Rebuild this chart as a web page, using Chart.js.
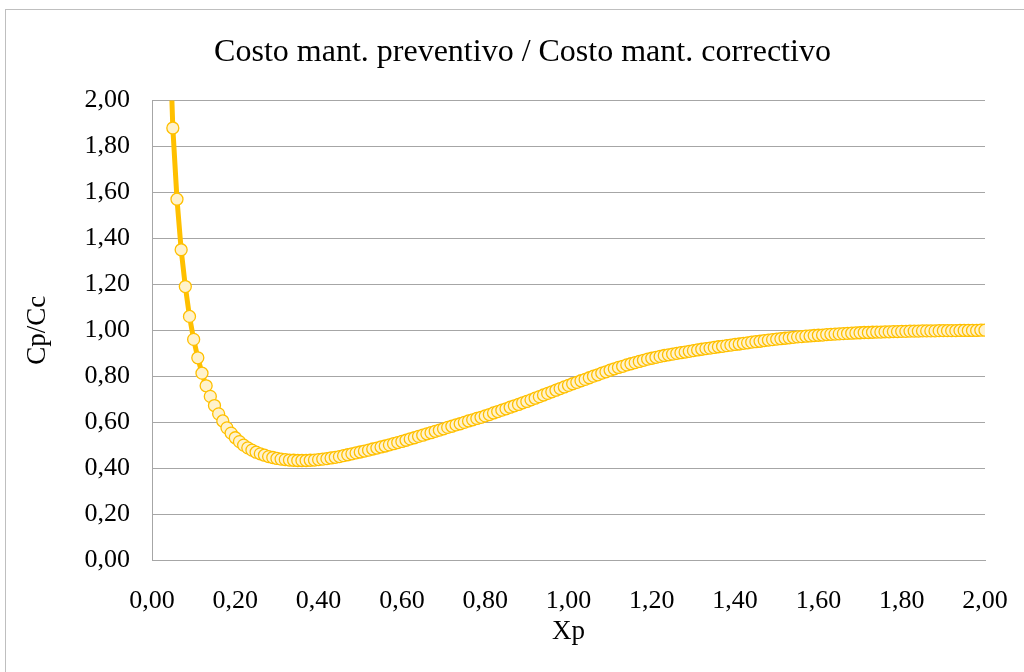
<!DOCTYPE html>
<html>
<head>
<meta charset="utf-8">
<script src="https://cdn.jsdelivr.net/npm/chart.js@4.4.0/dist/chart.umd.min.js"></script>
<style>
  html, body { margin: 0; padding: 0; background: #fff; overflow: hidden; }
  #wrap { position: relative; width: 1024px; height: 672px; }
  #frame { position: absolute; left: 5px; top: 9px; width: 1100px; height: 800px; border: 1px solid #bfbfbf; box-sizing: border-box; }
  canvas { position: absolute; left: 0; top: 0; }
</style>
</head>
<body>
<div id="wrap">
  <div id="frame"></div>
  <canvas id="chart" width="1024" height="672"></canvas>
</div>
<script>
// textos del gráfico
const chartTitle = 'Costo mant. preventivo / Costo mant. correctivo';
const xTitle = 'Xp';
const yTitle = 'Cp/Cc';

// ejes (0 a 2, paso 0,2)
const xTicks = [0, 0.2, 0.4, 0.6, 0.8, 1.0, 1.2, 1.4, 1.6, 1.8, 2.0];
const yTicks = [0, 0.2, 0.4, 0.6, 0.8, 1.0, 1.2, 1.4, 1.6, 1.8, 2.0];

// Xp
const xp = [
  0.01, 0.02, 0.03, 0.04, 0.05, 0.06, 0.07, 0.08, 0.09, 0.10,
  0.11, 0.12, 0.13, 0.14, 0.15, 0.16, 0.17, 0.18, 0.19, 0.20,
  0.21, 0.22, 0.23, 0.24, 0.25, 0.26, 0.27, 0.28, 0.29, 0.30,
  0.31, 0.32, 0.33, 0.34, 0.35, 0.36, 0.37, 0.38, 0.39, 0.40,
  0.41, 0.42, 0.43, 0.44, 0.45, 0.46, 0.47, 0.48, 0.49, 0.50,
  0.51, 0.52, 0.53, 0.54, 0.55, 0.56, 0.57, 0.58, 0.59, 0.60,
  0.61, 0.62, 0.63, 0.64, 0.65, 0.66, 0.67, 0.68, 0.69, 0.70,
  0.71, 0.72, 0.73, 0.74, 0.75, 0.76, 0.77, 0.78, 0.79, 0.80,
  0.81, 0.82, 0.83, 0.84, 0.85, 0.86, 0.87, 0.88, 0.89, 0.90,
  0.91, 0.92, 0.93, 0.94, 0.95, 0.96, 0.97, 0.98, 0.99, 1.00,
  1.01, 1.02, 1.03, 1.04, 1.05, 1.06, 1.07, 1.08, 1.09, 1.10,
  1.11, 1.12, 1.13, 1.14, 1.15, 1.16, 1.17, 1.18, 1.19, 1.20,
  1.21, 1.22, 1.23, 1.24, 1.25, 1.26, 1.27, 1.28, 1.29, 1.30,
  1.31, 1.32, 1.33, 1.34, 1.35, 1.36, 1.37, 1.38, 1.39, 1.40,
  1.41, 1.42, 1.43, 1.44, 1.45, 1.46, 1.47, 1.48, 1.49, 1.50,
  1.51, 1.52, 1.53, 1.54, 1.55, 1.56, 1.57, 1.58, 1.59, 1.60,
  1.61, 1.62, 1.63, 1.64, 1.65, 1.66, 1.67, 1.68, 1.69, 1.70,
  1.71, 1.72, 1.73, 1.74, 1.75, 1.76, 1.77, 1.78, 1.79, 1.80,
  1.81, 1.82, 1.83, 1.84, 1.85, 1.86, 1.87, 1.88, 1.89, 1.90,
  1.91, 1.92, 1.93, 1.94, 1.95, 1.96, 1.97, 1.98, 1.99, 2.00
];

// Cp/Cc
const cpcc = [
  9.400, 4.750, 3.200, 2.420, 1.880, 1.570, 1.350, 1.190, 1.060, 0.960,
  0.880, 0.813, 0.758, 0.712, 0.672, 0.636, 0.605, 0.575, 0.552, 0.532,
  0.515, 0.500, 0.488, 0.478, 0.469, 0.462, 0.456, 0.450, 0.446, 0.442,
  0.439, 0.437, 0.435, 0.434, 0.433, 0.433, 0.433, 0.434, 0.435, 0.437,
  0.439, 0.441, 0.444, 0.447, 0.450, 0.454, 0.458, 0.462, 0.466, 0.470,
  0.474, 0.478, 0.483, 0.487, 0.492, 0.496, 0.501, 0.506, 0.511, 0.516,
  0.521, 0.527, 0.532, 0.538, 0.543, 0.549, 0.554, 0.560, 0.565, 0.571,
  0.577, 0.582, 0.588, 0.593, 0.599, 0.605, 0.610, 0.616, 0.621, 0.627,
  0.633, 0.640, 0.646, 0.652, 0.658, 0.665, 0.671, 0.677, 0.684, 0.690,
  0.697, 0.704, 0.711, 0.718, 0.725, 0.732, 0.739, 0.746, 0.753, 0.760,
  0.767, 0.773, 0.780, 0.786, 0.793, 0.800, 0.806, 0.813, 0.819, 0.826,
  0.832, 0.838, 0.843, 0.849, 0.854, 0.859, 0.864, 0.869, 0.874, 0.878,
  0.882, 0.886, 0.890, 0.893, 0.896, 0.899, 0.902, 0.905, 0.908, 0.911,
  0.914, 0.917, 0.920, 0.922, 0.925, 0.928, 0.930, 0.933, 0.935, 0.938,
  0.940, 0.943, 0.945, 0.948, 0.950, 0.952, 0.955, 0.957, 0.959, 0.961,
  0.963, 0.965, 0.967, 0.969, 0.971, 0.972, 0.974, 0.975, 0.977, 0.978,
  0.979, 0.981, 0.982, 0.983, 0.984, 0.985, 0.986, 0.987, 0.988, 0.989,
  0.990, 0.990, 0.991, 0.992, 0.992, 0.993, 0.993, 0.994, 0.994, 0.995,
  0.995, 0.996, 0.996, 0.996, 0.997, 0.997, 0.997, 0.997, 0.998, 0.998,
  0.998, 0.998, 0.998, 0.999, 0.999, 0.999, 0.999, 0.999, 1.000, 1.000
];

const serif = '"Liberation Serif", "Times New Roman", serif';
const fmt = v => v.toFixed(2).replace('.', ',');

new Chart(document.getElementById('chart'), {
  type: 'scatter',
  data: {
    datasets: [{
      label: yTitle,
      data: xp.map((x, i) => ({ x: x, y: cpcc[i] })),
      showLine: true,
      borderColor: '#FFC000',
      borderWidth: 5,
      pointRadius: 6,
      pointBorderWidth: 1.3,
      pointBackgroundColor: '#FFF2CC',
      pointBorderColor: '#FFC000',
      tension: 0
    }]
  },
  options: {
    responsive: false,
    animation: false,
    // el margen izquierdo centra el título como en el original
    layout: { padding: { left: 60, right: 39, top: 0, bottom: 0 } },
    plugins: {
      legend: { display: false },
      tooltip: { enabled: false },
      title: {
        display: true,
        text: chartTitle,
        color: '#000',
        font: { family: serif, size: 32, weight: 'normal' },
        padding: { top: 33, bottom: 29 }
      }
    },
    scales: {
      x: {
        type: 'linear',
        min: 0,
        max: 2,
        afterBuildTicks: s => { s.ticks = xTicks.map(v => ({ value: v })); },
        afterFit: s => { s.height = 112; s.paddingLeft = 0; s.paddingRight = 0; },
        grid: { display: false, drawTicks: false },
        border: { display: true, color: '#a6a6a6', width: 1 },
        ticks: {
          color: '#000',
          font: { family: serif, size: 26 },
          padding: 26,
          maxRotation: 0,
          callback: v => fmt(v)
        },
        title: {
          display: true,
          text: xTitle,
          color: '#000',
          font: { family: serif, size: 27 },
          padding: { top: 0, bottom: 24 }
        }
      },
      y: {
        min: 0,
        max: 2,
        afterBuildTicks: s => { s.ticks = yTicks.map(v => ({ value: v })); },
        afterFit: s => { s.width = 92; s.paddingTop = 0; s.paddingBottom = 0; },
        grid: { color: '#a6a6a6', lineWidth: 1, drawTicks: false },
        border: { display: true, color: '#a6a6a6', width: 1 },
        ticks: {
          color: '#000',
          font: { family: serif, size: 26 },
          padding: 22,
          callback: v => fmt(v)
        },
        title: {
          display: true,
          text: yTitle,
          color: '#000',
          font: { family: serif, size: 27 },
          padding: { top: -38, bottom: 0 }
        }
      }
    }
  }
});
</script>
</body>
</html>
